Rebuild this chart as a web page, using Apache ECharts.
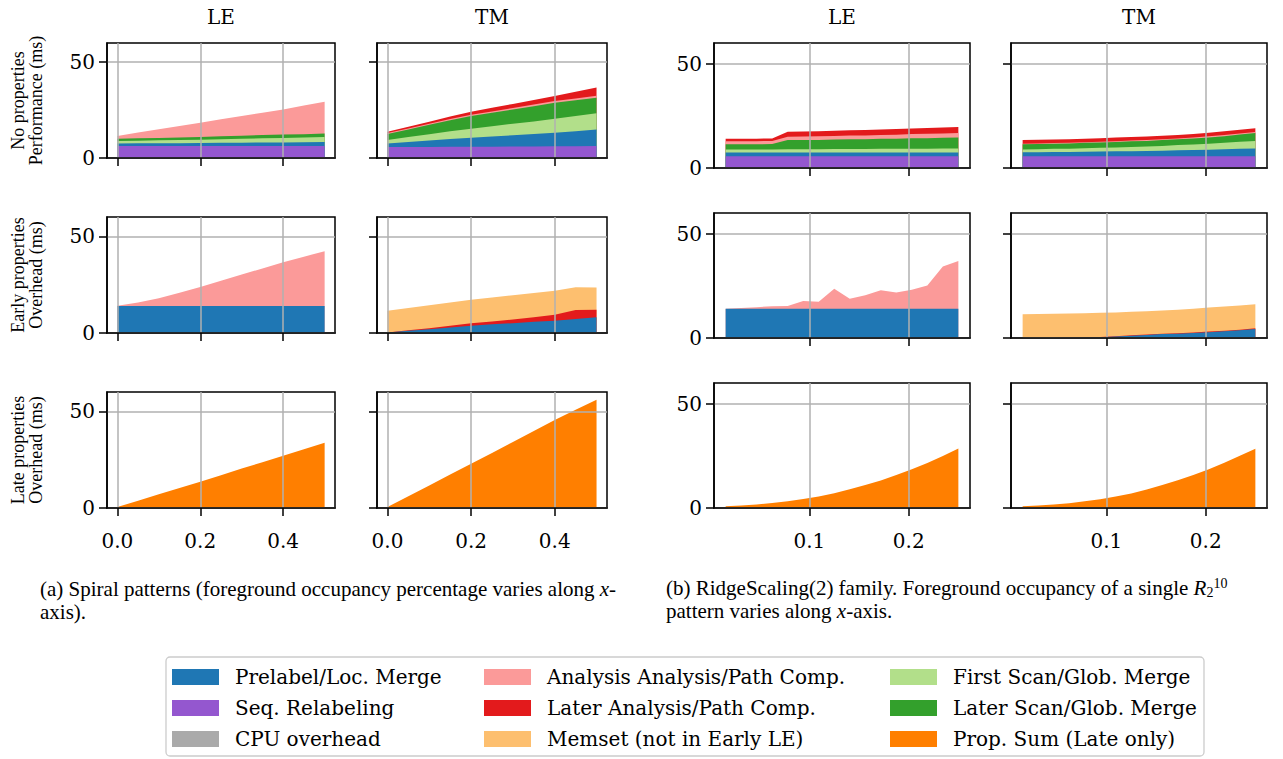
<!DOCTYPE html>
<html>
<head>
<meta charset="utf-8">
<script src="https://cdn.jsdelivr.net/npm/echarts@6/dist/echarts.min.js"></script>
<style>
  html, body { margin: 0; padding: 0; background: #fff; }
  #chart { width: 1283px; height: 759px; }
</style>
</head>
<body>
<div id="chart"></div>
<script>
// ---- x positions ----
const xSpiral = [0, 0.05, 0.1, 0.15, 0.2, 0.25, 0.3, 0.35, 0.4, 0.45, 0.5];
const xRidge = [0.015625, 0.03125, 0.046875, 0.0625, 0.078125, 0.09375, 0.109375, 0.125,
                0.140625, 0.15625, 0.171875, 0.1875, 0.203125, 0.21875, 0.234375, 0.25];
const xTicksSpiral = [0, 0.2, 0.4];
const xTicksRidge = [0.1, 0.2];
const yTicks = [0, 50];

// ---- (a) Spiral patterns, times in ms ----
// No properties / LE
const spNoLE_seq       = [6.3, 6.3, 6.3, 6.3, 6.3, 6.3, 6.3, 6.3, 6.3, 6.3, 6.3];
const spNoLE_prelabel  = [1.3, 1.35, 1.4, 1.45, 1.5, 1.6, 1.7, 1.8, 1.85, 1.9, 2.0];
const spNoLE_first     = [1.3, 1.4, 1.5, 1.6, 1.75, 1.9, 2.0, 2.2, 2.3, 2.45, 2.6];
const spNoLE_later     = [1.2, 1.25, 1.3, 1.4, 1.45, 1.5, 1.6, 1.7, 1.75, 1.8, 1.9];
const spNoLE_analysis  = [1.4, 3.0, 4.5, 6.0, 7.4, 8.9, 10.3, 11.6, 13.1, 14.9, 16.5];
// No properties / TM
const spNoTM_seq       = [5.8, 5.8, 5.8, 5.9, 5.9, 5.9, 6.0, 6.0, 6.1, 6.1, 6.2];
const spNoTM_prelabel  = [1.8, 2.6, 3.3, 4.0, 4.7, 5.3, 5.9, 6.5, 7.1, 7.9, 8.7];
const spNoTM_first     = [1.8, 2.5, 3.3, 4.0, 4.7, 5.4, 6.0, 6.6, 7.3, 7.9, 8.5];
const spNoTM_later     = [3.1, 4.0, 4.9, 5.8, 6.6, 7.0, 7.4, 7.9, 8.3, 8.2, 8.0];
const spNoTM_analysis  = [0.5, 0.5, 0.6, 0.6, 0.7, 0.7, 0.8, 0.9, 1.0, 1.0, 1.1];
const spNoTM_laterAn   = [0.7, 0.9, 1.0, 1.3, 1.5, 1.9, 2.1, 2.3, 2.5, 3.5, 4.3];
// Early properties / LE
const spEarlyLE_prelabel = [14.0, 14.0, 14.0, 14.0, 14.0, 14.0, 14.0, 14.0, 14.0, 14.0, 14.0];
const spEarlyLE_analysis = [0.1, 1.8, 4.0, 6.8, 9.8, 13.0, 16.2, 19.4, 22.6, 25.5, 28.3];
// Early properties / TM
const spEarlyTM_prelabel = [0.2, 1.1, 2.0, 2.9, 3.8, 4.5, 5.1, 5.8, 6.4, 7.3, 8.2];
const spEarlyTM_laterAn  = [0.0, 0.3, 0.5, 0.8, 1.2, 1.5, 1.9, 2.4, 3.0, 4.6, 3.8];
const spEarlyTM_memset   = [11.3, 11.5, 11.8, 12.1, 12.2, 12.4, 12.5, 12.5, 12.5, 11.7, 11.5];
// Late properties
const spLateLE_prop = [0.5, 3.8, 7.1, 10.3, 13.6, 17.0, 20.4, 23.7, 27.0, 30.4, 33.8];
const spLateTM_prop = [0.5, 6.1, 11.7, 17.3, 22.9, 28.5, 34.1, 39.8, 45.5, 50.8, 56.0];

// ---- (b) RidgeScaling(2) family, times in ms ----
// No properties / LE
const rgNoLE_seq      = [5.7, 5.7, 5.7, 5.7, 5.7, 5.7, 5.7, 5.7, 5.7, 5.7, 5.7, 5.7, 5.7, 5.7, 5.7, 5.7];
const rgNoLE_prelabel = [1.7, 1.7, 1.7, 1.7, 1.7, 1.7, 1.7, 1.7, 1.7, 1.7, 1.7, 1.7, 1.7, 1.7, 1.7, 1.7];
const rgNoLE_first    = [1.5, 1.5, 1.5, 1.5, 1.6, 1.6, 1.6, 1.7, 1.7, 1.7, 1.8, 1.8, 1.9, 1.9, 2.0, 2.0];
const rgNoLE_later    = [2.5, 2.5, 2.5, 2.6, 4.4, 4.5, 4.5, 4.6, 4.7, 4.7, 4.8, 4.9, 5.0, 5.0, 5.1, 5.2];
const rgNoLE_analysis = [1.5, 1.5, 1.5, 1.5, 1.6, 1.6, 1.7, 1.7, 1.8, 1.8, 1.9, 1.9, 2.0, 2.1, 2.1, 2.2];
const rgNoLE_laterAn  = [1.2, 1.2, 1.2, 1.2, 2.4, 2.4, 2.5, 2.5, 2.5, 2.6, 2.6, 2.7, 2.7, 2.8, 2.8, 2.9];
// No properties / TM
const rgNoTM_seq      = [5.7, 5.7, 5.7, 5.7, 5.7, 5.7, 5.7, 5.7, 5.7, 5.7, 5.7, 5.7, 5.7, 5.7, 5.7, 5.7];
const rgNoTM_prelabel = [1.9, 1.9, 2.0, 2.0, 2.1, 2.2, 2.3, 2.4, 2.5, 2.6, 2.8, 2.9, 3.1, 3.3, 3.5, 3.7];
const rgNoTM_first    = [1.3, 1.4, 1.5, 1.6, 1.7, 1.8, 1.9, 2.0, 2.1, 2.3, 2.5, 2.7, 2.9, 3.1, 3.4, 3.6];
const rgNoTM_later    = [2.5, 2.5, 2.5, 2.5, 2.6, 2.6, 2.6, 2.7, 2.7, 2.8, 2.8, 2.9, 3.0, 3.2, 3.5, 3.8];
const rgNoTM_analysis = [0.3, 0.3, 0.3, 0.3, 0.3, 0.3, 0.4, 0.4, 0.4, 0.4, 0.4, 0.4, 0.5, 0.5, 0.5, 0.5];
const rgNoTM_laterAn  = [1.8, 1.8, 1.7, 1.7, 1.7, 1.7, 1.7, 1.7, 1.7, 1.7, 1.7, 1.7, 1.7, 1.8, 1.8, 1.8];
// Early properties / LE
const rgEarlyLE_prelabel = [14.1, 14.1, 14.1, 14.1, 14.1, 14.1, 14.1, 14.1, 14.1, 14.1, 14.1, 14.1, 14.1, 14.1, 14.1, 14.1];
const rgEarlyLE_analysis = [0.0, 0.3, 0.7, 1.2, 1.3, 3.7, 3.3, 9.6, 4.8, 6.4, 8.8, 7.7, 9.1, 11.1, 20.2, 22.9];
// Early properties / TM
const rgEarlyTM_prelabel = [0.0, 0.0, 0.0, 0.1, 0.2, 0.4, 0.7, 1.1, 1.5, 1.9, 2.1, 2.4, 2.8, 3.2, 3.7, 4.3];
const rgEarlyTM_laterAn  = [0.0, 0.0, 0.0, 0.0, 0.0, 0.1, 0.1, 0.2, 0.2, 0.2, 0.2, 0.3, 0.3, 0.3, 0.3, 0.4];
const rgEarlyTM_memset   = [11.4, 11.5, 11.6, 11.7, 11.7, 11.6, 11.5, 11.3, 11.2, 11.1, 11.3, 11.4, 11.5, 11.6, 11.6, 11.5];
// Late properties
const rgLateLE_prop = [0.9, 1.2, 1.7, 2.4, 3.2, 4.3, 5.5, 7.1, 9.0, 11.0, 13.2, 15.9, 18.6, 21.6, 25.0, 28.6];
const rgLateTM_prop = [0.9, 1.2, 1.7, 2.3, 3.2, 4.2, 5.5, 7.0, 8.9, 11.0, 13.3, 15.9, 18.6, 21.7, 25.1, 28.5];

// ---- legend entries / colours ----
const NAMES = {
  prelabel: 'Prelabel/Loc. Merge',
  seq: 'Seq. Relabeling',
  cpu: 'CPU overhead',
  analysis: 'Analysis Analysis/Path Comp.',
  laterAn: 'Later Analysis/Path Comp.',
  memset: 'Memset (not in Early LE)',
  first: 'First Scan/Glob. Merge',
  later: 'Later Scan/Glob. Merge',
  prop: 'Prop. Sum (Late only)'
};
const COLORS = {
  prelabel: '#1f77b4', seq: '#9457cf', cpu: '#aaaaaa',
  analysis: '#fb9a99', laterAn: '#e31a1c', memset: '#fdbf6f',
  first: '#b2df8a', later: '#33a02c', prop: '#ff7f00'
};

// ---- panel layout ----
const colA = [{ left: 107, width: 228 }, { left: 377, width: 230 }];
const colB = [{ left: 714, width: 256 }, { left: 1011, width: 256 }];
const rowA = [{ top: 43, height: 115 }, { top: 217, height: 116 }, { top: 392, height: 116 }];
const rowB = [{ top: 43, height: 125 }, { top: 213, height: 125 }, { top: 383, height: 125 }];
const rowNames = ['No properties\nPerformance (ms)', 'Early properties\nOverhead (ms)', 'Late properties\nOverhead (ms)'];

// layers listed bottom to top
const panels = [
  { g: 'A', r: 0, c: 0, layers: [['seq', spNoLE_seq], ['prelabel', spNoLE_prelabel], ['cpu', []], ['first', spNoLE_first], ['later', spNoLE_later], ['analysis', spNoLE_analysis]] },
  { g: 'A', r: 0, c: 1, layers: [['seq', spNoTM_seq], ['prelabel', spNoTM_prelabel], ['first', spNoTM_first], ['later', spNoTM_later], ['analysis', spNoTM_analysis], ['laterAn', spNoTM_laterAn]] },
  { g: 'A', r: 1, c: 0, layers: [['prelabel', spEarlyLE_prelabel], ['analysis', spEarlyLE_analysis]] },
  { g: 'A', r: 1, c: 1, layers: [['prelabel', spEarlyTM_prelabel], ['laterAn', spEarlyTM_laterAn], ['memset', spEarlyTM_memset]] },
  { g: 'A', r: 2, c: 0, layers: [['prop', spLateLE_prop]] },
  { g: 'A', r: 2, c: 1, layers: [['prop', spLateTM_prop]] },
  { g: 'B', r: 0, c: 0, layers: [['seq', rgNoLE_seq], ['prelabel', rgNoLE_prelabel], ['first', rgNoLE_first], ['later', rgNoLE_later], ['analysis', rgNoLE_analysis], ['laterAn', rgNoLE_laterAn]] },
  { g: 'B', r: 0, c: 1, layers: [['seq', rgNoTM_seq], ['prelabel', rgNoTM_prelabel], ['first', rgNoTM_first], ['later', rgNoTM_later], ['analysis', rgNoTM_analysis], ['laterAn', rgNoTM_laterAn]] },
  { g: 'B', r: 1, c: 0, layers: [['prelabel', rgEarlyLE_prelabel], ['analysis', rgEarlyLE_analysis]] },
  { g: 'B', r: 1, c: 1, layers: [['prelabel', rgEarlyTM_prelabel], ['laterAn', rgEarlyTM_laterAn], ['memset', rgEarlyTM_memset]] },
  { g: 'B', r: 2, c: 0, layers: [['prop', rgLateLE_prop]] },
  { g: 'B', r: 2, c: 1, layers: [['prop', rgLateTM_prop]] }
];

const PLOT_FONT = 'DejaVu Serif';
const TEXT_FONT = 'Liberation Serif';
const GRID_GRAY = '#b0b0b0';

const grids = [], xAxes = [], yAxes = [], series = [];

panels.forEach((p, i) => {
  const xs = p.g === 'A' ? xSpiral : xRidge;
  const xTicks = p.g === 'A' ? xTicksSpiral : xTicksRidge;
  const col = (p.g === 'A' ? colA : colB)[p.c];
  const row = (p.g === 'A' ? rowA : rowB)[p.r];
  const span = xs[xs.length - 1] - xs[0];
  const xMin = xs[0] - 0.05 * span;
  const xMax = xs[xs.length - 1] + 0.05 * span;

  grids.push({
    left: col.left, top: row.top, width: col.width, height: row.height,
    show: true, borderColor: '#000', borderWidth: 1.5, backgroundColor: 'transparent'
  });

  xAxes.push({
    type: 'value', gridIndex: i, min: xMin, max: xMax, z: 3,
    axisLine: { show: true, onZero: false, lineStyle: { color: '#000', width: 1.5 } },
    axisTick: { show: true, inside: false, length: 8, customValues: xTicks, lineStyle: { color: '#000', width: 1.5 } },
    axisLabel: {
      show: p.r === 2, customValues: xTicks, margin: 23,
      fontFamily: PLOT_FONT, fontSize: 20, color: '#000',
      formatter: v => v.toFixed(1)
    },
    splitLine: { show: true, lineStyle: { color: GRID_GRAY, width: 1.5 } }
  });

  const showName = p.g === 'A' && p.c === 0;
  yAxes.push({
    type: 'value', gridIndex: i, min: 0, max: 60, interval: 50, z: 3,
    name: showName ? rowNames[p.r] : '',
    nameLocation: 'middle', nameRotate: 90, nameGap: 62,
    nameTextStyle: { fontFamily: TEXT_FONT, fontSize: 18, lineHeight: 18, color: '#000' },
    axisLine: { show: true, onZero: false, lineStyle: { color: '#000', width: 1.5 } },
    axisTick: { show: true, inside: false, length: 8, customValues: yTicks, lineStyle: { color: '#000', width: 1.5 } },
    axisLabel: {
      show: p.c === 0, customValues: yTicks, margin: 12,
      fontFamily: PLOT_FONT, fontSize: 20, color: '#000'
    },
    splitLine: { show: true, lineStyle: { color: GRID_GRAY, width: 1.5 } }
  });

  // Running totals: each layer is filled from the axis up to its cumulative top,
  // and the layers are painted top-down so every lower band covers the one above.
  const running = xs.map(() => 0);
  const bands = p.layers.map(([key, vals]) => {
    const tops = xs.map((x, j) => {
      running[j] += (vals[j] || 0);
      return running[j];
    });
    return { key, tops, empty: vals.length === 0 };
  });
  bands.slice().reverse().forEach(b => {
    series.push({
      name: NAMES[b.key], type: 'line', xAxisIndex: i, yAxisIndex: i,
      z: 1, silent: true,
      symbol: 'none', showSymbol: false,
      color: COLORS[b.key],
      itemStyle: { color: COLORS[b.key] },
      lineStyle: { width: 0, color: COLORS[b.key] },
      areaStyle: { color: COLORS[b.key], opacity: 1 },
      data: b.empty ? [] : b.tops.map((t, j) => [xs[j], t])
    });
  });
});

const titles = [
  { text: 'LE', left: 221 }, { text: 'TM', left: 492 },
  { text: 'LE', left: 842 }, { text: 'TM', left: 1139 }
].map(t => ({
  text: t.text, left: t.left, top: 7, textAlign: 'center', padding: 0,
  textStyle: { fontFamily: PLOT_FONT, fontSize: 20, fontWeight: 'normal', color: '#000' }
}));

const legendBase = {
  orient: 'vertical', top: 667, itemWidth: 47, itemHeight: 16, itemGap: 11,
  icon: 'rect', selectedMode: false, padding: 0,
  itemStyle: { borderWidth: 0 },
  textStyle: { fontFamily: PLOT_FONT, fontSize: 20, lineHeight: 16, color: '#000', padding: [0, 0, 0, 11] }
};
const legends = [
  Object.assign({}, legendBase, { left: 172, data: [NAMES.prelabel, NAMES.seq, NAMES.cpu] }),
  Object.assign({}, legendBase, { left: 484, data: [NAMES.analysis, NAMES.laterAn, NAMES.memset] }),
  Object.assign({}, legendBase, { left: 890, data: [NAMES.first, NAMES.later, NAMES.prop] })
];

const capStyle = { fontFamily: TEXT_FONT, fontSize: 21, fill: '#000', lineHeight: 23 };
const graphics = [
  {
    type: 'rect', z: -1, silent: true,
    shape: { x: 166, y: 657, width: 1038, height: 99, r: 4 },
    style: { fill: '#fff', stroke: '#cccccc', lineWidth: 1.3 }
  },
  {
    type: 'text', left: 40, top: 578, silent: true,
    style: {
      text: '{n|(a) Spiral patterns (foreground occupancy percentage varies along }{i|x}{n|-}\n{n|axis).}',
      rich: { n: capStyle, i: Object.assign({}, capStyle, { fontStyle: 'italic' }) }
    }
  },
  {
    type: 'text', left: 666, top: 576, silent: true,
    style: {
      text: '{n|(b) RidgeScaling(2) family. Foreground occupancy of a single }{i|R}{sub|2}{sup|10}\n{n|pattern varies along }{i|x}{n|-axis.}',
      rich: {
        n: capStyle,
        i: Object.assign({}, capStyle, { fontStyle: 'italic' }),
        sub: { fontFamily: TEXT_FONT, fontSize: 14, fill: '#000', lineHeight: 14, verticalAlign: 'bottom' },
        sup: { fontFamily: TEXT_FONT, fontSize: 14, fill: '#000', lineHeight: 14, verticalAlign: 'top' }
      }
    }
  }
];

const chart = echarts.init(document.getElementById('chart'), null, { renderer: 'svg' });
chart.setOption({
  animation: false,
  backgroundColor: '#fff',
  title: titles,
  legend: legends,
  grid: grids,
  xAxis: xAxes,
  yAxis: yAxes,
  series: series,
  graphic: graphics
});
</script>
</body>
</html>
